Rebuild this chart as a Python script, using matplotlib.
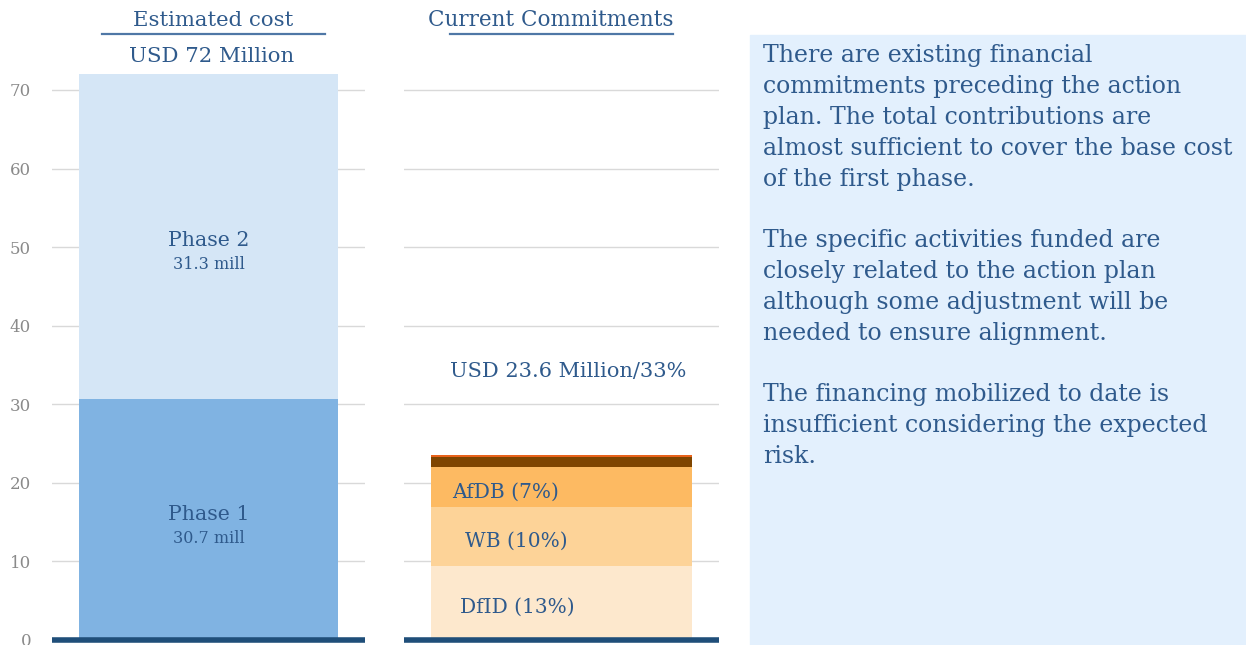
import matplotlib.pyplot as plt

# values (USD million)
phase_names = ["Phase 1", "Phase 2"]
phase_values = [30.7, 41.3]
phase_labels = ["30.7 mill", "31.3 mill"]

donor_names = ["DfID (13%)", "WB (10%)", "AfDB (7%)", "", ""]
donor_values = [9.4, 7.5, 5.1, 1.35, 0.25]

yticks = [0, 10, 20, 30, 40, 50, 60, 70]

paragraphs = [
    "There are existing financial\ncommitments preceding the action\nplan. The total contributions are\n"
    "almost sufficient to cover the base cost\nof the first phase.",
    "The specific activities funded are\nclosely related to the action plan\n"
    "although some adjustment will be\nneeded to ensure alignment.",
    "The financing mobilized to date is\ninsufficient considering the expected\nrisk.",
]

TEXT = "#2F5A8C"
FONT = "DejaVu Serif"
plt.rcParams["font.family"] = FONT

W, H = 1246, 645
fig = plt.figure(figsize=(W / 100, H / 100), dpi=100)


def px_axes(x0, x1, y_top, y_bot):
    return fig.add_axes([x0 / W, 1 - y_bot / H, (x1 - x0) / W, (y_bot - y_top) / H])


YMIN, YMAX = -0.64, 76.36
ax1 = px_axes(52, 365, 40, 645)
ax2 = px_axes(404, 719, 40, 645)

for ax in (ax1, ax2):
    ax.set_xlim(-0.5, 0.5)
    ax.set_ylim(YMIN, YMAX)
    for s in ax.spines.values():
        s.set_visible(False)
    ax.set_xticks([])
    for t in yticks[1:]:
        ax.axhline(t, color="#d9d9d9", lw=1.0, zorder=0)
    ax.axhline(0, color="#1F4E79", lw=4, zorder=3)
    ax.set_facecolor("none")

ax1.set_yticks(yticks)
ax1.tick_params(axis="y", length=0, pad=15, labelsize=12, labelcolor="#8a8a8a")
ax2.set_yticks([])

# left stacked bar
phase_colors = ["#80B3E2", "#D5E6F6"]
name_shift = [0.65, -0.45]
bottom = 0
for name, val, lab, col, sh in zip(phase_names, phase_values, phase_labels,
                                   phase_colors, name_shift):
    ax1.bar(0, val, width=0.83, bottom=bottom, color=col, zorder=2)
    mid = bottom + val / 2 + sh
    ax1.text(0.0, mid, name, ha="center", va="center", color=TEXT, fontsize=14.8)
    ax1.text(0.0, mid - 3.05, lab, ha="center", va="center", color=TEXT, fontsize=11.5)
    bottom += val
ax1.text(0.01, sum(phase_values) + 2.2, "USD 72 Million", ha="center", va="center",
         color=TEXT, fontsize=15.3)

# right stacked bar
donor_colors = ["#FDE8CD", "#FDD398", "#FDBA62", "#7F4500", "#E8621A"]
label_dx = [-0.14, -0.143, -0.178, 0, 0]
bottom = 0
for name, val, col, dx in zip(donor_names, donor_values, donor_colors, label_dx):
    ax2.bar(0, val, width=0.83, bottom=bottom, color=col, zorder=2)
    if name:
        ax2.text(dx, bottom + val / 2 - 0.6, name, ha="center", va="center",
                 color=TEXT, fontsize=14.5)
    bottom += val
ax2.text(0.02, 34.2, "USD %.1f Million/33%%" % sum(donor_values), ha="center",
         va="center", color=TEXT, fontsize=15)

# headers with underline
for cx, x0, x1, title, fs in [(213, 102, 325, "Estimated cost", 15.3),
                              (551, 450, 673, "Current Commitments", 15.5)]:
    fig.text(cx / W, 1 - 20 / H, title, ha="center", va="center", color=TEXT, fontsize=fs)
    fig.add_artist(plt.Line2D([x0 / W, x1 / W], [1 - 34 / H, 1 - 34 / H],
                              color="#4F77A6", lw=1.6))

# commentary box
fig.add_artist(plt.Rectangle((750 / W, 0), (W - 750) / W, 1 - 35 / H,
                             color="#E3F0FD", transform=fig.transFigure, zorder=0))
for ytop, para in zip([44, 229, 383], paragraphs):
    fig.text(763 / W, 1 - ytop / H, para, ha="left", va="top", color=TEXT,
             fontsize=17, linespacing=1.45)

fig.savefig("out.png", dpi=100)
